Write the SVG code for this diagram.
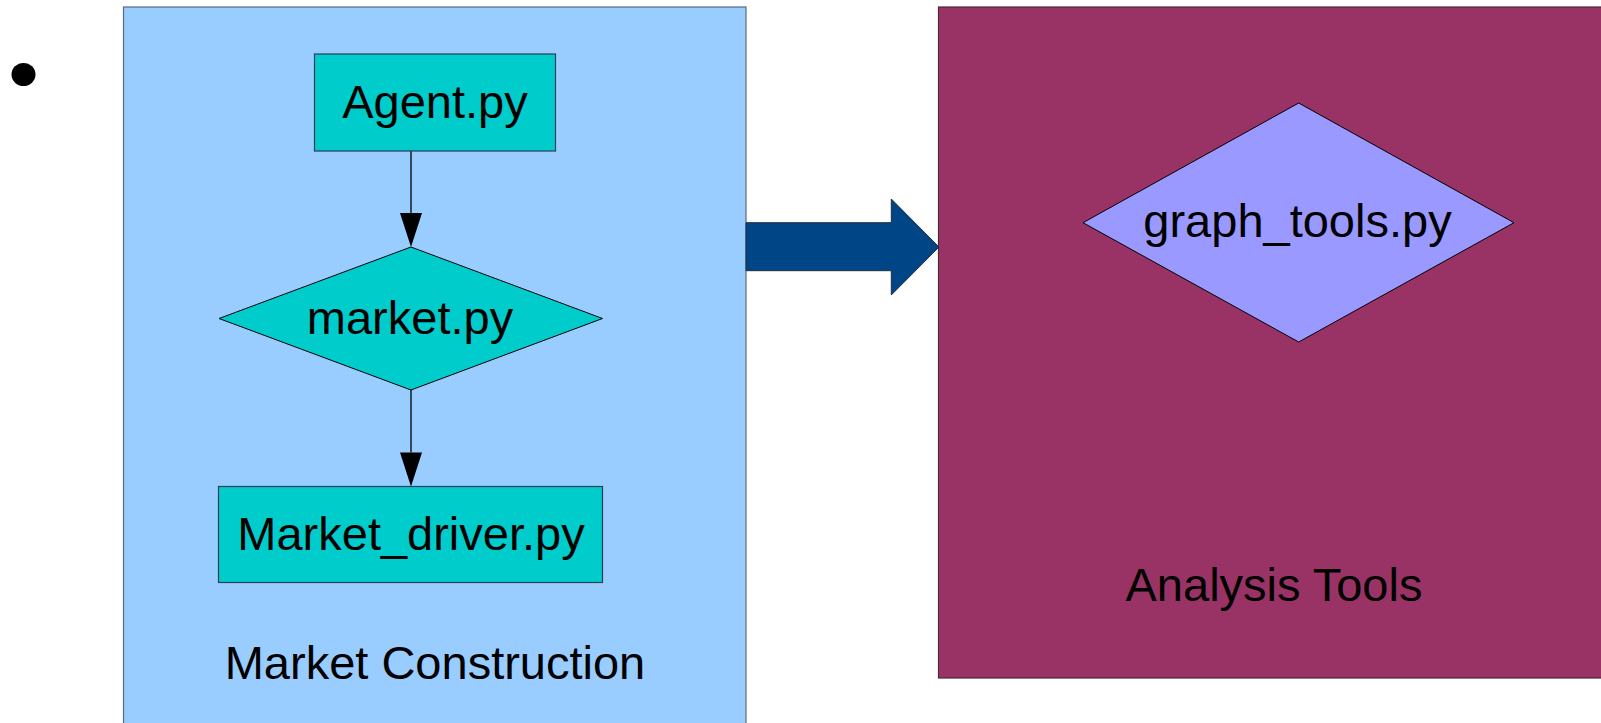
<svg xmlns="http://www.w3.org/2000/svg" width="1601" height="723" viewBox="0 0 1601 723">
  <style>
    .lbl { font-family: "Liberation Sans", Arial, sans-serif; font-size: 47px; fill: #000; text-anchor: middle; }
    .node { fill: #00cccc; stroke: #2a3f55; stroke-width: 1.2; }
    .dia { fill: #00cccc; stroke: #000; stroke-width: 1; }
    .edge { stroke: #000; stroke-width: 1.3; fill: none; }
  </style>
  <defs>
    <marker id="head" markerUnits="userSpaceOnUse" markerWidth="22" markerHeight="34" refX="11" refY="34" orient="auto-start-reverse" viewBox="0 0 22 34">
      <path d="M0,0 L22,0 L11,34 Z" fill="#000"/>
    </marker>
  </defs>

  <rect width="1601" height="723" fill="#fff"/>

  <!-- bullet -->
  <ellipse cx="23.5" cy="74.5" rx="12" ry="11.5" fill="#000"/>

  <!-- Market Construction container -->
  <g id="market-construction">
    <rect x="123.5" y="7" width="622.5" height="730" fill="#99ccff" stroke="#5a6a7e" stroke-width="1.2"/>
    <text class="lbl" x="435" y="679">Market Construction</text>
  </g>

  <!-- Analysis Tools container -->
  <g id="analysis-tools">
    <rect x="938.5" y="7" width="680" height="671" fill="#993366" stroke="#4a2a38" stroke-width="1.2"/>
    <text class="lbl" x="1274" y="601">Analysis Tools</text>
  </g>

  <!-- block arrow between containers -->
  <g id="flow-arrow">
    <path d="M746,222.7 L891.3,222.7 L891.3,199 L939,247 L891.3,295 L891.3,270.7 L746,270.7 Z" fill="#004586" stroke="#1d2f45" stroke-width="1"/>
  </g>

  <!-- connectors -->
  <g id="connectors">
    <line class="edge" x1="411" y1="151" x2="411" y2="213" />
    <path d="M400,213 L422,213 L411,247 Z" fill="#000"/>
    <line class="edge" x1="411" y1="390" x2="411" y2="452.5" />
    <path d="M400,452.5 L422,452.5 L411,486.5 Z" fill="#000"/>
  </g>

  <g id="agent">
    <rect class="node" x="314.5" y="54" width="241" height="97"/>
    <text class="lbl" x="435" y="118">Agent.py</text>
  </g>

  <g id="market">
    <polygon class="dia" points="219,318.5 411,247 602.5,318.5 411,390"/>
    <text class="lbl" x="410" y="334">market.py</text>
  </g>

  <g id="market-driver">
    <rect class="node" x="218.5" y="486.5" width="384" height="96"/>
    <text class="lbl" x="411" y="550">Market_driver.py</text>
  </g>

  <g id="graph-tools">
    <polygon points="1083,222.7 1298.7,103 1514,222.7 1298.7,342" fill="#9999ff" stroke="#000" stroke-width="1"/>
    <text class="lbl" x="1297.5" y="237">graph_tools.py</text>
  </g>
</svg>
